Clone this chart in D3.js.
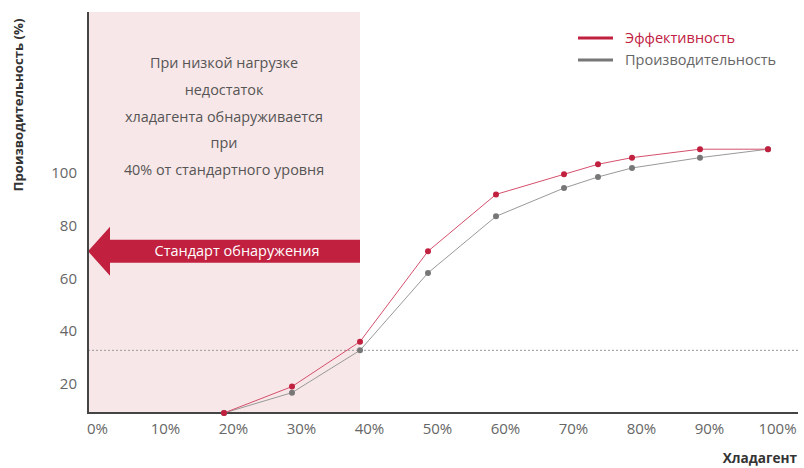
<!DOCTYPE html>
<html><head><meta charset="utf-8">
<script src="https://cdn.jsdelivr.net/npm/d3@7"></script>
<style>body{margin:0;background:#fff}svg{display:block;font-family:"Open Sans",sans-serif}</style>
</head><body><svg id="c" width="804" height="468"></svg>
<script>
const categories = [20, 30, 40, 50, 60, 70, 75, 80, 90, 100];
const efficiency = [9, 19, 36, 70.2, 91.7, 99.3, 103.1, 105.6, 108.8, 108.8];
const performance = [9, 16.7, 32.7, 62, 83.4, 94.1, 98.3, 101.7, 105.6, 108.8];
const xTicks = [0, 10, 20, 30, 40, 50, 60, 70, 80, 90, 100];
const yTicks = [20, 40, 60, 80, 100];
const thresholdX = 40;
const thresholdY = 32.7;
const noteLines = ["При низкой нагрузке", "недостаток", "хладагента обнаруживается", "при", "40% от стандартного уровня"];
const arrowLabel = "Стандарт обнаружения";
const seriesNames = ["Эффективность", "Производительность"];

(function () {
const svg = d3.select("#c");
const pLeft = 88, pRight = 798, pTop = 12, pBottom = 413;
const x = d3.scaleLinear().domain([0, 100]).range([pLeft, 768]);
const y = d3.scaleLinear().domain([9, 160.7]).range([pBottom, pTop]);
const red = "#c1203f", gray = "#777";

// shaded region
svg.append("rect").attr("x", x(0)).attr("y", pTop).attr("width", x(thresholdX) - x(0)).attr("height", pBottom - pTop).attr("fill", "#f8e7e8");

// note text
svg.append("g").selectAll("text").data(noteLines).join("text")
  .attr("x", (x(0) + x(thresholdX)) / 2).attr("y", (d, i) => 68 + i * 26.8)
  .attr("text-anchor", "middle").attr("font-size", 14.4).attr("fill", "#555").text(d => d);

// arrow
const ay = y(70.2);
const ax0 = x(0), ax1 = x(thresholdX);
svg.append("path").attr("fill", red).attr("d",
  `M${ax0},${ay} L${ax0 + 22},${ay - 24.5} L${ax0 + 22},${ay - 11.5} L${ax1},${ay - 11.5} L${ax1},${ay + 11.5} L${ax0 + 22},${ay + 11.5} L${ax0 + 22},${ay + 24.5} Z`);
svg.append("text").attr("x", 237).attr("y", ay + 5).attr("text-anchor", "middle").attr("font-size", 14.5).attr("fill", "#fff").text(arrowLabel);

// dashed threshold line
svg.append("line").attr("x1", pLeft).attr("x2", pRight).attr("y1", y(thresholdY)).attr("y2", y(thresholdY))
  .attr("stroke", "#999").attr("stroke-width", 1).attr("stroke-dasharray", "2,2");

// axes
const xAxis = svg.append("g").attr("transform", `translate(0,${pBottom})`)
  .call(d3.axisBottom(x).tickValues(xTicks).tickSize(0).tickPadding(10).tickFormat(d => d + "%"));
xAxis.select(".domain").remove();
xAxis.selectAll("text").attr("font-size", 15).attr("fill", "#666").attr("dx", 9).attr("font-family", "Open Sans");
const yAxis = svg.append("g").attr("transform", `translate(${pLeft},0)`)
  .call(d3.axisLeft(y).tickValues(yTicks).tickSize(0).tickPadding(11));
yAxis.select(".domain").remove();
yAxis.selectAll("text").attr("font-size", 15).attr("fill", "#666").attr("font-family", "Open Sans");

svg.append("line").attr("x1", pLeft).attr("x2", pLeft).attr("y1", pTop).attr("y2", pBottom + 1).attr("stroke", "#444").attr("stroke-width", 2);
svg.append("line").attr("x1", pLeft - 1).attr("x2", pRight).attr("y1", pBottom).attr("y2", pBottom).attr("stroke", "#444").attr("stroke-width", 2);

// lines
const line = d3.line().x((d, i) => x(categories[i])).y(d => y(d));
svg.append("path").datum(performance).attr("d", line).attr("fill", "none").attr("stroke", "#999").attr("stroke-width", 1);
svg.append("path").datum(efficiency).attr("d", line).attr("fill", "none").attr("stroke", "#d4506c").attr("stroke-width", 1);
svg.append("g").selectAll("circle").data(performance).join("circle")
  .attr("cx", (d, i) => x(categories[i])).attr("cy", d => y(d)).attr("r", 3).attr("fill", gray);
svg.append("g").selectAll("circle").data(efficiency).join("circle")
  .attr("cx", (d, i) => x(categories[i])).attr("cy", d => y(d)).attr("r", 3).attr("fill", red);

// legend
const legend = svg.append("g");
[red, gray].forEach((c, i) => {
  legend.append("line").attr("x1", 578).attr("x2", 613).attr("y1", 38 + i * 22).attr("y2", 38 + i * 22).attr("stroke", c).attr("stroke-width", 3);
  legend.append("text").attr("x", 625).attr("y", 43 + i * 22).attr("font-size", 14.5).attr("fill", i === 0 ? red : "#666").text(seriesNames[i]);
});

// axis titles
svg.append("text").attr("transform", "translate(23,105) rotate(-90)").attr("text-anchor", "middle")
  .attr("font-size", 13.2).attr("font-weight", "bold").attr("fill", "#333").text("Производительность (%)");
svg.append("text").attr("x", 797).attr("y", 463).attr("text-anchor", "end")
  .attr("font-size", 13.6).attr("font-weight", "bold").attr("fill", "#333").text("Хладагент");
})();
</script></body></html>
